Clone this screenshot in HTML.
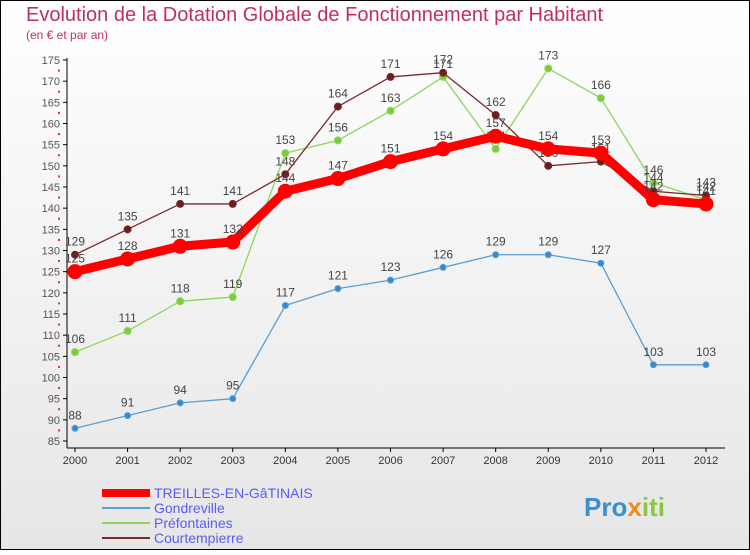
<!DOCTYPE html>
<html><head><meta charset="utf-8"><style>
body{margin:0;width:750px;height:550px;overflow:hidden;font-family:"Liberation Sans",sans-serif}
svg text{font-family:"Liberation Sans",sans-serif}
</style></head><body>
<svg id="chart" width="750" height="550">
<defs><linearGradient id="bg" x1="0" y1="0" x2="0" y2="1"><stop offset="0" stop-color="#ffffff"/><stop offset="1" stop-color="#e6e6e6"/></linearGradient></defs>
<rect x="0.5" y="0.5" width="749" height="549" fill="url(#bg)" stroke="#000"/>
<text x="26" y="21" font-size="20" fill="#c0305f">Evolution de la Dotation Globale de Fonctionnement par Habitant</text>
<text x="26" y="39" font-size="12" fill="#c0305f">(en € et par an)</text>
<g id="axes"></g><g id="series"></g><g id="legend"></g>
<text x="584" y="516" font-size="26" font-weight="bold"><tspan fill="#3a8fd0">Pro</tspan><tspan fill="#f08a1c">x</tspan><tspan fill="#8cc63f">iti</tspan></text>
</svg>
<script>
const years=[2000,2001,2002,2003,2004,2005,2006,2007,2008,2009,2010,2011,2012];
const treilles=[125,128,131,132,144,147,151,154,157,154,153,142,141];
const gondreville=[88,91,94,95,117,121,123,126,129,129,127,103,103];
const prefontaines=[106,111,118,119,153,156,163,171,154,173,166,146,142];
const courtempierre=[129,135,141,141,148,164,171,172,162,150,151,144,143];
const yTicks=[85,90,95,100,105,110,115,120,125,130,135,140,145,150,155,160,165,170,175];
const NS="http://www.w3.org/2000/svg";
const X=i=>75+i*(706-75)/12;
const Y=v=>60+(175-v)*(441-60)/90;
function mk(t,a,p){const e=document.createElementNS(NS,t);for(const k in a)e.setAttribute(k,a[k]);p.appendChild(e);return e;}
const ax=document.getElementById('axes');
let l=mk('line',{x1:67,y1:58,x2:67,y2:448,stroke:'#000'},ax);


l=mk('line',{x1:67,y1:448,x2:725,y2:448,stroke:'#000'},ax);


yTicks.forEach(v=>{mk('line',{x1:63,y1:Y(v),x2:67,y2:Y(v),stroke:'#000'},ax);
 const t=mk('text',{x:60,y:Y(v)+4,'font-size':11,fill:'#555','text-anchor':'end'},ax);t.textContent=v;
 
 
 if(v<175) mk('rect',{x:58,y:Y(v+2.5)-1,width:2,height:2,fill:'#e03030'},ax);});
years.forEach((y,i)=>{mk('line',{x1:X(i),y1:448,x2:X(i),y2:452,stroke:'#000'},ax);
 const t=mk('text',{x:X(i),y:464,'font-size':11,fill:'#333','text-anchor':'middle'},ax);t.textContent=y;
 
 });
const sg=document.getElementById('series');
function series(d,col,w,r,name,dot){const g=mk('g',{},sg);
 
 
 mk('polyline',{points:d.map((v,i)=>X(i)+','+Y(v)).join(' '),fill:'none',stroke:col,'stroke-width':w,'stroke-linejoin':'round'},g);
 d.forEach((v,i)=>{const c=mk('circle',{cx:X(i),cy:Y(v),r:r,fill:dot,stroke:col,'stroke-width':1},g);
  
  
  const t=mk('text',{x:X(i),y:Y(v)-9,'font-size':12,fill:'#444','text-anchor':'middle'},g);t.textContent=v;
  
  });}
series(gondreville,'#5a9fd4',1.3,3,'gondreville','#3a88cc');
series(prefontaines,'#8ed65a',1.3,3.5,'prefontaines','#7ccc3c');
series(courtempierre,'#7a2a2a',1.3,3.5,'courtempierre','#6a1e1e');
series(treilles,'#ff0000',9,7,'treilles','#ff0000');
const lg=document.getElementById('legend');
[['TREILLES-EN-GâTINAIS','#ff0000',8],['Gondreville','#5a9fd4',2],['Préfontaines','#8ed65a',2],['Courtempierre','#7a2a2a',2]].forEach((e,i)=>{
 const y=493+i*15;
 const ln=mk('line',{x1:102,y1:y,x2:150,y2:y,stroke:e[1],'stroke-width':e[2]},lg);
 
 
 const t=mk('text',{x:154,y:y+5,'font-size':14,fill:'#5a5aff'},lg);t.textContent=e[0];
 
 });
</script>
</body></html>
